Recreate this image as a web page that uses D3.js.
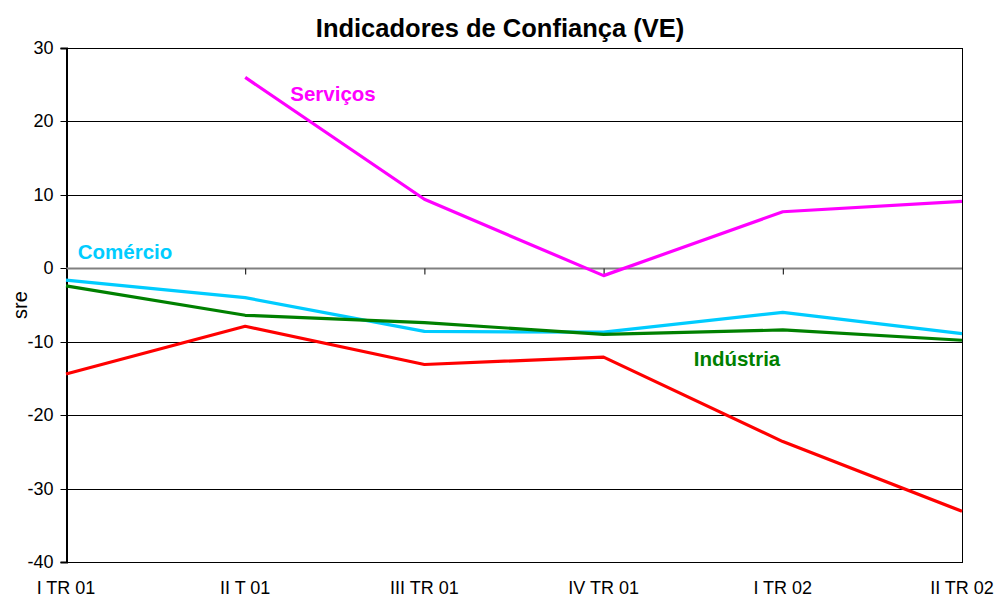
<!DOCTYPE html>
<html>
<head>
<meta charset="utf-8">
<script src="https://cdn.jsdelivr.net/npm/d3@7"></script>
<style>
  body { margin: 0; background: #fff; }
  svg { display: block; font-family: "Liberation Sans", Arial, sans-serif; }
</style>
</head>
<body>
<svg id="chart" width="998" height="598"></svg>
<script>
const categories = ["I TR 01", "II T 01", "III TR 01", "IV TR 01", "I TR 02", "II TR 02"];
const servicos   = [null, 26.0, 9.4, -1.0, 7.7, 9.1];
const comercio   = [-1.6, -4.0, -8.6, -8.7, -6.0, -8.9];
const industria  = [-2.4, -6.4, -7.4, -9.0, -8.4, -9.8];
const construcao = [-14.4, -7.9, -13.1, -12.1, -23.6, -33.1];
const yTicks = [30, 20, 10, 0, -10, -20, -30, -40];

const series = [
  { name: "Serviços",  values: servicos,   color: "#FF00FF", label: { x: 333, y: 101 } },
  { name: "Comércio",  values: comercio,   color: "#00CCFF", label: { x: 125, y: 259 } },
  { name: "Indústria", values: industria,  color: "#008000", label: { x: 737, y: 366 } },
  { name: "",          values: construcao, color: "#FF0000", label: null }
];

const FONT = "'Liberation Sans', Arial, sans-serif";
const svg = d3.select("#chart");
const pL = 66, pR = 962, pT = 48, pB = 562;

const x = d3.scalePoint().domain(categories).range([pL, pR]);
const y = d3.scaleLinear().domain([-40, 30]).range([pB, pT]);

// gridlines
svg.append("g").selectAll("line").data(yTicks.filter(d => d !== 0 && d !== -40 && d !== 30)).join("line")
  .attr("x1", pL).attr("x2", pR)
  .attr("y1", d => Math.round(y(d)) + 0.5).attr("y2", d => Math.round(y(d)) + 0.5)
  .attr("stroke", "#000").attr("stroke-width", 1);

// plot border
svg.append("rect")
  .attr("x", pL + 0.5).attr("y", Math.round(y(30)) + 0.5)
  .attr("width", pR - pL).attr("height", Math.round(y(-40)) - Math.round(y(30)))
  .attr("fill", "none").attr("stroke", "#000").attr("stroke-width", 1);

// y axis
const yAxis = d3.axisLeft(y).tickValues(yTicks).tickSize(6).tickPadding(7).tickFormat(d => String(d));
const yg = svg.append("g").attr("transform", `translate(${pL + 0.5},0)`).call(yAxis)
  .attr("font-family", FONT).attr("font-size", 18);
yg.select(".domain").attr("stroke", "#000").attr("stroke-width", 2);
yg.selectAll(".tick line").attr("stroke", "#000");
yg.selectAll(".tick text").attr("fill", "#000");
yg.selectAll(".tick").attr("transform", d => `translate(0,${Math.round(y(d)) + 0.5})`);

// category axis at zero
const xAxis = d3.axisBottom(x).tickSize(6).tickFormat("");
const xg = svg.append("g").attr("transform", `translate(0,${Math.round(y(0)) + 0.5})`).call(xAxis);
xg.select(".domain").attr("stroke", "#808080").attr("stroke-width", 2).attr("d", `M${pL},0H${pR}`);
xg.selectAll(".tick line").attr("stroke", "#000");

// category labels at bottom
svg.append("g").selectAll("text").data(categories).join("text")
  .attr("x", d => x(d)).attr("y", 594)
  .attr("text-anchor", "middle").attr("font-size", 18).attr("fill", "#000")
  .attr("font-family", FONT)
  .text(d => d);

// lines
const line = d3.line().defined(d => d.v !== null).x(d => x(d.c)).y(d => y(d.v));
series.forEach(s => {
  const pts = categories.map((c, i) => ({ c, v: s.values[i] }));
  svg.append("path").datum(pts)
    .attr("d", line)
    .attr("fill", "none").attr("stroke", s.color).attr("stroke-width", 3.2)
    .attr("stroke-linejoin", "round").attr("stroke-linecap", "butt");
  if (s.label) {
    svg.append("text").attr("x", s.label.x).attr("y", s.label.y)
      .attr("text-anchor", "middle").attr("font-size", 20.5).attr("font-weight", "bold")
      .attr("font-family", FONT)
      .attr("fill", s.color).text(s.name);
  }
});

// title
svg.append("text").attr("x", 500).attr("y", 37).attr("text-anchor", "middle")
  .attr("font-size", 25.5).attr("font-weight", "bold").attr("fill", "#000")
  .attr("font-family", FONT)
  .text("Indicadores de Confiança (VE)");

// y axis title
svg.append("text").attr("transform", `translate(27,${(pT + pB) / 2}) rotate(-90)`)
  .attr("text-anchor", "middle").attr("font-size", 20).attr("fill", "#000")
  .attr("font-family", FONT).text("sre");
</script>
</body>
</html>
